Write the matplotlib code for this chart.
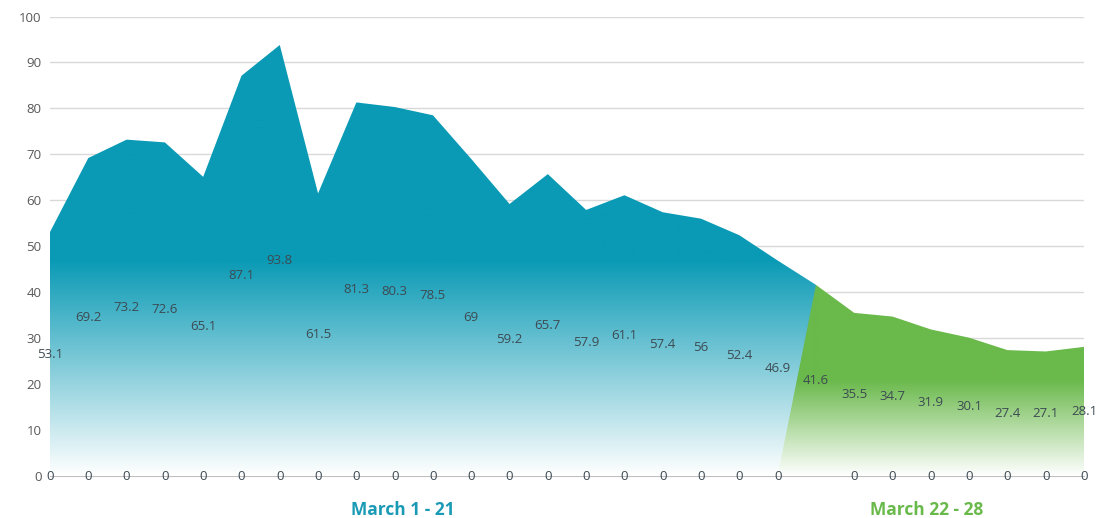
import numpy as np
import matplotlib.pyplot as plt
from matplotlib.colors import LinearSegmentedColormap

# datos (28 días de marzo)
dias = list(range(1, 29))
serie_1_21 = [53.1, 69.2, 73.2, 72.6, 65.1, 87.1, 93.8, 61.5, 81.3, 80.3, 78.5,
              69, 59.2, 65.7, 57.9, 61.1, 57.4, 56, 52.4, 46.9, 41.6,
              0, 0, 0, 0, 0, 0, 0]
serie_22_28 = [0] * 20 + [41.6, 35.5, 34.7, 31.9, 30.1, 27.4, 27.1, 28.1]
etiquetas_grupo = ["March 1 - 21", "March 22 - 28"]

AZUL = "#0A9AB5"
VERDE = "#6AB94B"

plt.rcParams['font.family'] = ['Open Sans', 'DejaVu Sans']

fig = plt.figure(figsize=(10.99, 5.18), dpi=100)
ax = fig.add_axes([50 / 1099, 42 / 518, 1034 / 1099, 459.5 / 518])
x = np.arange(len(dias))


def area_degradada(y, color):
    poly = ax.fill_between(x, 0, y, color="none", lw=0)
    ymax = max(y)
    cmap = LinearSegmentedColormap.from_list(
        "g", [(0, "white"), (0.5, color), (1, color)])
    grad = np.linspace(0, 1, 256).reshape(-1, 1)
    im = ax.imshow(grad, cmap=cmap, origin="lower", aspect="auto",
                   extent=[x[0], x[-1], 0, ymax], zorder=2)
    im.set_clip_path(poly.get_paths()[0], transform=ax.transData)


area_degradada(serie_1_21, AZUL)
area_degradada(serie_22_28, VERDE)

# etiquetas de datos (en el centro del área)
for xi, v in zip(x, serie_1_21):
    if v == 0 and xi < 20:
        continue
    ax.text(xi, v / 2, f"{v:g}", ha="center", va="center", fontsize=9.5,
            color="#3d4a52", zorder=5)
for xi, v in zip(x, serie_22_28):
    if v == 0 and xi >= 20:
        continue
    if xi == 20:
        continue
    ax.text(xi, v / 2, f"{v:g}", ha="center", va="center", fontsize=9.5,
            color="#3d4a52", zorder=5)

ax.set_xlim(0, len(dias) - 1)
ax.set_ylim(0, 100)
ax.set_yticks(range(0, 101, 10))
ax.tick_params(axis="y", length=0, labelsize=9.5, labelcolor="#595959", pad=6)
ax.set_xticks(x)
ax.set_xticklabels([])
ax.tick_params(axis="x", length=0)
ax.grid(axis="y", color="#d9d9d9", lw=1)
ax.set_axisbelow(True)
for s in ["top", "right", "left"]:
    ax.spines[s].set_visible(False)
ax.spines["bottom"].set_color("#bfbfbf")
ax.spines["bottom"].set_zorder(1)

ax.text(9.2, -7.3, etiquetas_grupo[0], ha="center", va="center", fontsize=12.5,
        fontweight="bold", color="#1a9ab5")
ax.text(22.9, -7.3, etiquetas_grupo[1], ha="center", va="center", fontsize=12.5,
        fontweight="bold", color="#6ab94b")

fig.savefig("out.png", dpi=100)
